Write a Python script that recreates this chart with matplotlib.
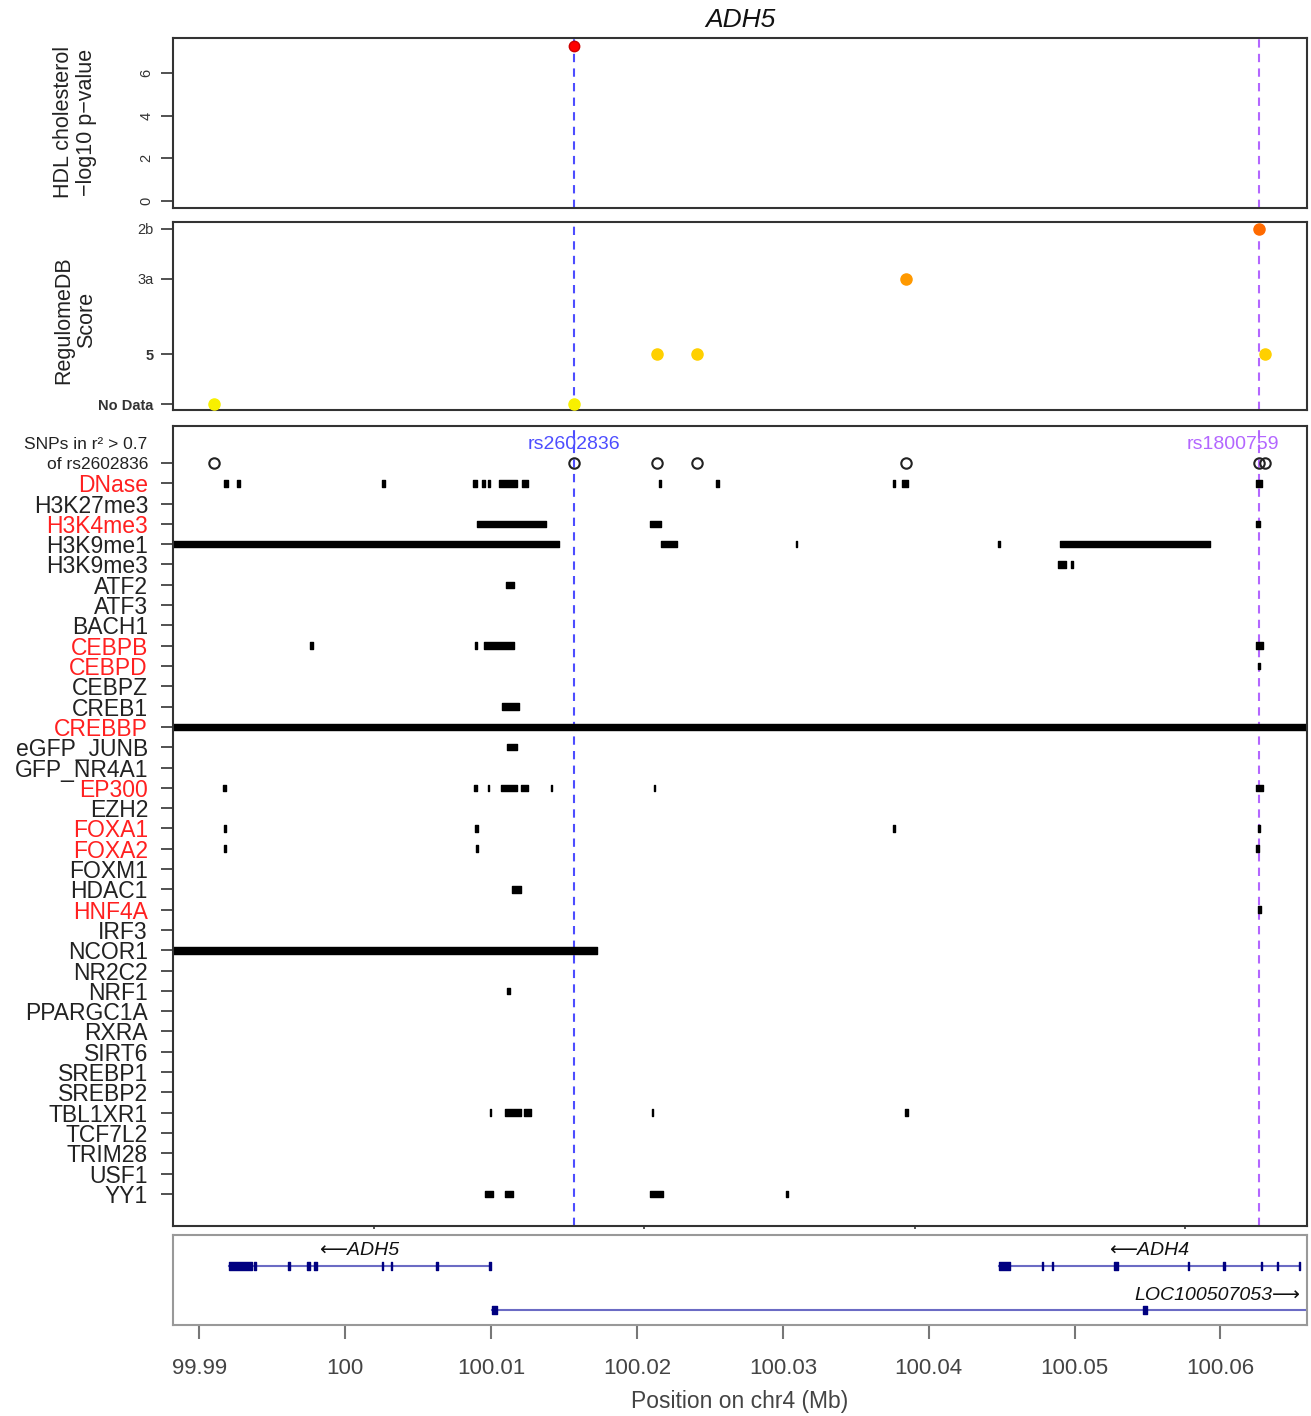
import matplotlib.pyplot as plt
from matplotlib.transforms import blended_transform_factory

plt.rcParams['font.family'] = ['Liberation Sans', 'DejaVu Sans']

# ---- data (positions in Mb on chr4) ----
snp_pos = [99.98820, 100.01481, 100.02094, 100.02390, 100.03935, 100.06544, 100.06589]
rdb_score = ['No Data', 'No Data', '5', '5', '3a', '2b', '5']
hdl_pos = [100.01481]
hdl_logp = [7.27]
lead_snp = ('rs2602836', 100.01481)
other_snp = ('rs1800759', 100.06544)

score_levels = ['2b', '2c', '3a', '3b', '4', '5', '6', 'No Data']
score_shown = ['2b', '3a', '5', 'No Data']

dnase = [(99.98895, 99.98920), (99.98990, 99.99012), (100.00058, 100.00080),
         (100.00735, 100.00760), (100.00797, 100.00819), (100.00842, 100.00863),
         (100.00924, 100.01058), (100.01096, 100.01142), (100.02108, 100.02120),
         (100.02531, 100.02551), (100.03835, 100.03856), (100.03905, 100.03951),
         (100.06522, 100.06565)]
h3k27me3 = []
h3k4me3 = [(100.00763, 100.01276), (100.02042, 100.02120), (100.06522, 100.06549)]
h3k9me1 = [(99.980, 100.01369), (100.02120, 100.02239), (100.03124, 100.03132),
           (100.04618, 100.04632), (100.05073, 100.06182)]
h3k9me3 = [(100.05061, 100.05115), (100.05152, 100.05171)]
atf2 = [(100.00980, 100.01039)]
atf3 = []
bach1 = []
cebpb = [(99.99527, 99.99551), (100.00745, 100.00762), (100.00815, 100.01039),
         (100.06522, 100.06571)]
cebpd = [(100.06535, 100.06554)]
cebpz = []
creb1 = [(100.00946, 100.01073)]
crebbp = [(99.980, 100.075)]
egfp_junb = [(100.00985, 100.01058)]
gfp_nr4a1 = []
ep300 = [(99.98884, 99.98908), (100.00740, 100.00760), (100.00842, 100.00850),
         (100.00940, 100.01058), (100.01086, 100.01142), (100.01309, 100.01317),
         (100.02069, 100.02077), (100.06522, 100.06571)]
ezh2 = []
foxa1 = [(99.98895, 99.98905), (100.00750, 100.00768), (100.03835, 100.03856),
         (100.06536, 100.06550)]
foxa2 = [(99.98890, 99.98910), (100.00753, 100.00771), (100.06524, 100.06544)]
foxm1 = []
hdac1 = [(100.01021, 100.01090)]
hnf4a = [(100.06536, 100.06556)]
irf3 = []
ncor1 = [(99.980, 100.01651)]
nr2c2 = []
nrf1 = [(100.00985, 100.01007)]
ppargc1a = []
rxra = []
sirt6 = []
srebp1 = []
srebp2 = []
tbl1xr1 = [(100.00861, 100.00869), (100.00968, 100.01090), (100.01111, 100.01161),
           (100.02057, 100.02065), (100.03928, 100.03950)]
tcf7l2 = []
trim28 = []
usf1 = []
yy1 = [(100.00819, 100.00880), (100.00971, 100.01028), (100.02042, 100.02136),
       (100.03048, 100.03066)]

tracks = [('DNase', dnase), ('H3K27me3', h3k27me3), ('H3K4me3', h3k4me3),
          ('H3K9me1', h3k9me1), ('H3K9me3', h3k9me3), ('ATF2', atf2), ('ATF3', atf3),
          ('BACH1', bach1), ('CEBPB', cebpb), ('CEBPD', cebpd), ('CEBPZ', cebpz),
          ('CREB1', creb1), ('CREBBP', crebbp), ('eGFP_JUNB', egfp_junb),
          ('GFP_NR4A1', gfp_nr4a1), ('EP300', ep300), ('EZH2', ezh2),
          ('FOXA1', foxa1), ('FOXA2', foxa2), ('FOXM1', foxm1), ('HDAC1', hdac1),
          ('HNF4A', hnf4a), ('IRF3', irf3), ('NCOR1', ncor1), ('NR2C2', nr2c2),
          ('NRF1', nrf1), ('PPARGC1A', ppargc1a), ('RXRA', rxra), ('SIRT6', sirt6),
          ('SREBP1', srebp1), ('SREBP2', srebp2), ('TBL1XR1', tbl1xr1),
          ('TCF7L2', tcf7l2), ('TRIM28', trim28), ('USF1', usf1), ('YY1', yy1)]
red_tracks = ['DNase', 'H3K4me3', 'CEBPB', 'CEBPD', 'CREBBP', 'EP300',
              'FOXA1', 'FOXA2', 'HNF4A']

# genes
adh5_span = (99.99202, 100.00992)
adh5_exons = [(99.99202, 99.99359), (99.99375, 99.99385), (99.99610, 99.99618),
              (99.99740, 99.99756), (99.99788, 99.99803), (100.00253, 100.00261),
              (100.00313, 100.00321), (100.00625, 100.00633), (100.00988, 100.00996)]
adh4_span = (100.04480, 100.06540)
adh4_exons = [(100.04480, 100.04560), (100.04777, 100.04785), (100.04843, 100.04851),
              (100.05269, 100.05296), (100.05775, 100.05783), (100.06020, 100.06028),
              (100.06278, 100.06286), (100.06388, 100.06396), (100.06536, 100.06544)]
loc_span = (100.01007, 100.075)
loc_exons = [(100.01007, 100.01039), (100.05472, 100.05497)]
loc_label_x = 100.0598

gene_ticks = [99.99, 100.00, 100.01, 100.02, 100.03, 100.04, 100.05, 100.06]
gene_ticklabels = ['99.99', '100', '100.01', '100.02', '100.03', '100.04', '100.05', '100.06']
track_ticks = [100.00, 100.02, 100.04, 100.06]

# ---- figure ----
W, H = 1311, 1416
fig = plt.figure(figsize=(W / 100, H / 100), dpi=100)


def box(x0, y0, x1, y1):
    return [x0 / W, 1 - y1 / H, (x1 - x0) / W, (y1 - y0) / H]


ax1 = fig.add_axes(box(173, 38, 1307, 208))
ax2 = fig.add_axes(box(173, 222, 1307, 410), sharex=ax1)
ax3 = fig.add_axes(box(173, 426, 1307, 1226), sharex=ax1)
ax4 = fig.add_axes(box(173, 1235, 1307, 1325))

dark = '#333333'
lead_col = '#4d4dff'
other_col = '#b366ff'

for ax in (ax1, ax2, ax3):
    for s in ax.spines.values():
        s.set_color(dark)
        s.set_linewidth(1.5)
    ax.axvline(lead_snp[1], color=lead_col, lw=1.5, ls=(0, (4, 3)), zorder=1)
    ax.axvline(other_snp[1], color=other_col, lw=1.5, ls=(0, (4, 3)), zorder=1)

ax1.set_xlim(99.98516, 100.06899)

# panel 1: HDL p-values
ax1.plot(hdl_pos, hdl_logp, 'o', color='#ff0000', mec='#cc0000', ms=7.5, zorder=3)
ax1.set_ylim(-0.33, 7.64)
ax1.set_yticks([0, 2, 4, 6])
ax1.tick_params(axis='y', length=9, width=1.2, color=dark, pad=5, labelsize=10.5,
                labelcolor=dark, labelrotation=90)
for t in ax1.get_yticklabels():
    t.set_va('center')
ax1.tick_params(axis='x', bottom=False, labelbottom=False)
fig.text(75 / W, 1 - 122 / H, 'HDL cholesterol\n\u2212log10 p\u2212value', rotation=90,
         ha='center', va='center', fontsize=15.5, color='#222222', linespacing=1.1)
fig.text(740 / W, 1 - 20 / H, 'ADH5', ha='center', va='center', fontsize=19,
         style='italic', color='#111111')

# panel 2: RegulomeDB
score_cols = {'2b': '#ff6a00', '3a': '#ff9900', '5': '#ffd000', 'No Data': '#f8f000'}
for x, s in zip(snp_pos, rdb_score):
    ax2.plot(x, score_levels.index(s), 'o', color=score_cols[s], ms=8, zorder=3)
ax2.set_ylim(7.24, -0.28)
ax2.set_yticks([score_levels.index(s) for s in score_shown])
ax2.set_yticklabels(score_shown)
ax2.tick_params(axis='y', length=9, width=1.2, color=dark, pad=5, labelsize=10.5,
                labelcolor=dark)
for t in ax2.get_yticklabels():
    if t.get_text() in ('5', 'No Data'):
        t.set_fontweight('bold')
ax2.tick_params(axis='x', bottom=False, labelbottom=False)
fig.text(75 / W, 1 - 320 / H, 'RegulomeDB\nScore', rotation=90, ha='center',
         va='center', fontsize=15.5, color='#222222', linespacing=1.1)

# panel 3: annotation tracks
ax3.plot(snp_pos, [0] * len(snp_pos), 'o', mfc='none', mec='#222222', mew=1.5,
         ms=7.5, zorder=3)
for i, (name, ivs) in enumerate(tracks, start=1):
    if ivs:
        ax3.broken_barh([(s, e - s) for s, e in ivs], (i - 0.16, 0.32),
                        color='black', zorder=2)
ax3.set_ylim(37.58, -1.82)
ax3.set_yticks(range(len(tracks) + 1))
ax3.set_yticklabels(['of rs2602836'] + [n for n, _ in tracks])
ax3.tick_params(axis='y', length=9, width=1.2, color=dark, pad=9, labelsize=16.5)
for t in ax3.get_yticklabels():
    txt = t.get_text()
    if txt == 'of rs2602836':
        t.set_fontsize(12.5)
        t.set_color('#222222')
    elif txt in red_tracks:
        t.set_color('#ff2020')
    else:
        t.set_color('#222222')
trans = blended_transform_factory(ax3.transAxes, ax3.transData)
ax3.annotate('SNPs in r\u00b2 > 0.7', xy=(0, -0.9), xycoords=trans,
             xytext=(-18.7, 0), textcoords='offset points', ha='right', va='center',
             fontsize=12.5, color='#222222')
ax3.annotate(lead_snp[0], xy=(lead_snp[1], -0.9), xytext=(0, 0),
             textcoords='offset points', ha='center', va='center', fontsize=14,
             color=lead_col)
ax3.annotate(other_snp[0], xy=(other_snp[1], -0.9), xytext=(-19, 0),
             textcoords='offset points', ha='center', va='center', fontsize=14,
             color=other_col)
ax3.set_xticks(track_ticks)
ax3.tick_params(axis='x', length=2.5, width=1.2, color=dark, labelbottom=False)

# panel 4: genes
ax4.set_xlim(99.98819, 100.06593)
ax4.set_ylim(2.34, 0.295)
for s in ax4.spines.values():
    s.set_color('#999999')
    s.set_linewidth(1.5)
line_col = '#6b6bc4'
exon_col = '#000080'
for span, exons, row in [(adh5_span, adh5_exons, 1), (adh4_span, adh4_exons, 1),
                         (loc_span, loc_exons, 2)]:
    ax4.plot(span, [row, row], color=line_col, lw=1.5, zorder=1)
    ax4.broken_barh([(s, e - s) for s, e in exons], (row - 0.1, 0.2),
                    color=exon_col, zorder=2)
ax4.text(sum(adh5_span) / 2, 0.64, '\u27f5ADH5', ha='center', va='center',
         fontsize=14, style='italic', color='#111111')
ax4.text(sum(adh4_span) / 2, 0.64, '\u27f5ADH4', ha='center', va='center',
         fontsize=14, style='italic', color='#111111')
ax4.text(loc_label_x, 1.68, 'LOC100507053\u27f6', ha='center', va='center',
         fontsize=14, style='italic', color='#111111')
ax4.set_yticks([])
ax4.set_xticks(gene_ticks)
ax4.set_xticklabels(gene_ticklabels)
ax4.tick_params(axis='x', length=10, width=1.5, color='#777777', pad=14,
                labelsize=16, labelcolor='#444444')
ax4.set_xlabel('Position on chr4 (Mb)', fontsize=16.5, color='#444444', labelpad=8)

fig.savefig('out.png', dpi=100)
